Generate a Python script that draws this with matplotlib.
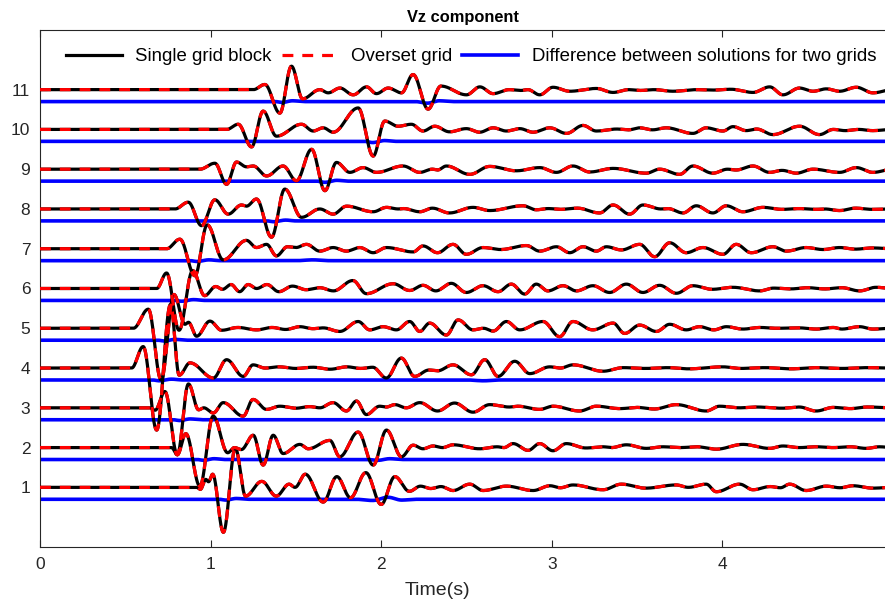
import numpy as np
import matplotlib
matplotlib.use("Agg")
import matplotlib.pyplot as plt

# Vertical-velocity traces at receivers 1..11, given as successive extrema
# (time in s, amplitude in trace units); the trace is flat before its first point.
trace_1 = [(0.918, 0.0), (0.94, -0.05), (0.972, 0.20), (0.988, 0.14), (1.012, 0.33), (1.075, -1.13),
           (1.145, 0.98), (1.205, -0.22), (1.30, 0.15), (1.385, -0.22), (1.46, 0.08), (1.495, 0.0),
           (1.555, 0.33), (1.66, -0.37), (1.74, 0.27), (1.82, -0.26), (1.91, 0.37), (2.0, -0.43),
           (2.08, 0.27), (2.165, -0.10), (2.23, 0.03), (2.29, -0.03), (2.35, 0.02), (2.421, -0.08),
           (2.519, 0.08), (2.597, -0.08), (2.734, 0.03), (2.890, -0.08), (2.99, 0.04), (3.05, -0.01),
           (3.124, 0.06), (3.30, -0.06), (3.408, 0.08), (3.55, -0.02), (3.729, 0.06), (3.80, 0.0),
           (3.905, 0.08), (3.964, -0.11), (4.101, 0.08), (4.179, -0.06), (4.28, 0.02), (4.34, -0.01),
           (4.394, 0.08), (4.491, -0.08), (4.609, 0.03), (4.69, -0.01), (4.765, 0.04), (4.882, -0.02),
           (5.0, 0.0)]
trace_2 = [(0.771, 0.0), (0.805, -0.18), (0.855, 0.35), (0.937, -0.97), (1.015, 0.79), (1.10, -0.13),
           (1.14, 0.0), (1.18, -0.05), (1.25, 0.31), (1.308, -0.44), (1.367, 0.31), (1.425, -0.15),
           (1.523, 0.08), (1.572, -0.03), (1.699, 0.18), (1.757, -0.23), (1.865, 0.39), (1.953, -0.44),
           (2.031, 0.44), (2.119, -0.23), (2.187, 0.06), (2.245, -0.03), (2.304, 0.04), (2.36, 0.0),
           (2.421, 0.07), (2.577, -0.03), (2.68, 0.02), (2.72, 0.0), (2.773, 0.10), (2.861, -0.07),
           (2.929, 0.10), (3.007, -0.08), (3.085, 0.10), (3.20, -0.01), (3.30, 0.02), (3.35, 0.0),
           (3.437, 0.07), (3.554, -0.02), (3.65, 0.02), (3.75, 0.0), (3.85, 0.02), (3.964, -0.04),
           (4.120, 0.08), (4.277, -0.02), (4.355, 0.04), (4.45, 0.0), (4.55, 0.02), (4.65, 0.0),
           (4.75, 0.02), (4.843, -0.02), (4.92, 0.02), (5.0, 0.0)]
trace_3 = [(0.644, 0.0), (0.675, -0.06), (0.732, 0.41), (0.805, -1.18), (0.87, 0.60), (0.93, -0.05),
           (0.96, 0.0), (1.016, -0.13), (1.074, 0.13), (1.191, -0.21), (1.249, 0.21), (1.328, -0.04),
           (1.406, 0.04), (1.50, -0.01), (1.58, 0.03), (1.64, 0.0), (1.718, 0.13), (1.796, -0.08),
           (1.855, 0.17), (1.913, -0.17), (1.991, 0.04), (2.03, 0.02), (2.08, 0.08), (2.147, 0.0),
           (2.226, 0.13), (2.33, -0.08), (2.43, 0.12), (2.538, -0.11), (2.636, 0.08), (2.75, 0.02),
           (2.80, 0.04), (2.929, -0.04), (3.007, 0.04), (3.163, -0.08), (3.261, 0.04), (3.40, -0.02),
           (3.50, 0.01), (3.60, -0.03), (3.730, 0.08), (3.905, -0.08), (3.983, 0.04), (4.10, 0.0),
           (4.20, 0.02), (4.35, -0.01), (4.45, 0.02), (4.550, -0.08), (4.65, 0.01), (4.75, -0.02),
           (4.85, 0.02), (5.0, 0.0)]
trace_4 = [(0.537, 0.0), (0.605, 0.54), (0.684, -1.56), (0.765, 1.6), (0.816, -0.18), (0.879, 0.13),
           (1.016, -0.25), (1.094, 0.21), (1.191, -0.21), (1.249, 0.08), (1.32, 0.0), (1.40, 0.03),
           (1.50, -0.01), (1.60, 0.02), (1.70, -0.03), (1.80, 0.03), (1.88, -0.01), (1.95, 0.02),
           (2.03, -0.25), (2.118, 0.25), (2.196, -0.21), (2.28, -0.05), (2.33, -0.07), (2.421, 0.08),
           (2.529, -0.17), (2.607, 0.21), (2.685, -0.21), (2.783, 0.17), (2.871, -0.14), (2.988, 0.03),
           (3.05, 0.0), (3.124, 0.08), (3.300, -0.08), (3.42, 0.01), (3.55, -0.01), (3.68, 0.01),
           (3.80, -0.02), (4.003, 0.03), (4.10, -0.01), (4.25, 0.01), (4.40, -0.02), (4.55, 0.01),
           (4.70, -0.01), (4.85, 0.01), (5.0, 0.0)]
trace_5 = [(0.547, 0.0), (0.635, 0.48), (0.71, -1.3), (0.785, 0.85), (0.85, 0.10), (0.87, 0.15),
           (0.918, -0.20), (0.996, 0.18), (1.064, -0.05), (1.16, 0.02), (1.27, -0.04), (1.36, 0.02),
           (1.44, -0.03), (1.523, 0.04), (1.60, -0.01), (1.66, 0.01), (1.757, -0.08), (1.865, 0.17),
           (1.933, -0.04), (2.011, 0.04), (2.089, -0.04), (2.167, 0.17), (2.226, -0.08), (2.284, 0.13),
           (2.382, -0.17), (2.451, 0.21), (2.538, -0.04), (2.60, 0.0), (2.656, -0.07), (2.734, 0.17),
           (2.812, -0.04), (2.948, 0.17), (3.046, -0.21), (3.124, 0.17), (3.24, -0.04), (3.359, 0.13),
           (3.427, -0.13), (3.515, 0.08), (3.613, -0.08), (3.691, 0.10), (3.788, -0.04), (3.866, 0.04),
           (3.95, -0.04), (4.023, 0.04), (4.12, -0.02), (4.22, 0.02), (4.32, 0.0), (4.45, 0.01),
           (4.55, -0.02), (4.65, 0.02), (4.70, -0.02), (4.804, 0.04), (4.882, -0.02), (5.0, 0.0)]
trace_6 = [(0.684, 0.0), (0.742, 0.39), (0.815, -1.05), (0.895, 0.45), (0.965, -0.18), (1.03, 0.05),
           (1.07, -0.02), (1.12, 0.10), (1.17, -0.08), (1.22, 0.10), (1.27, 0.0), (1.33, 0.10),
           (1.40, -0.08), (1.48, 0.06), (1.56, -0.03), (1.64, 0.02), (1.72, -0.06), (1.834, 0.20),
           (1.913, -0.13), (2.07, 0.12), (2.167, -0.05), (2.245, 0.08), (2.32, -0.06), (2.411, 0.13),
           (2.499, -0.10), (2.597, 0.07), (2.685, -0.08), (2.763, 0.11), (2.841, -0.14), (2.909, 0.11),
           (2.977, -0.06), (3.066, 0.07), (3.144, -0.06), (3.241, 0.07), (3.339, -0.10), (3.437, 0.11),
           (3.534, -0.10), (3.632, 0.08), (3.730, -0.12), (3.827, 0.07), (3.94, -0.02), (4.062, 0.03),
           (4.218, -0.06), (4.30, 0.01), (4.40, -0.01), (4.50, 0.02), (4.60, -0.01), (4.70, 0.02),
           (4.804, -0.06), (4.90, 0.03), (5.0, 0.0)]
trace_7 = [(0.742, 0.0), (0.82, 0.24), (0.908, -0.68), (0.98, 0.60), (1.074, -0.28), (1.21, 0.21),
           (1.269, 0.03), (1.328, 0.11), (1.386, -0.18), (1.45, 0.05), (1.50, 0.03), (1.562, 0.11),
           (1.640, -0.06), (1.718, 0.03), (1.796, -0.06), (1.874, 0.03), (1.953, -0.10), (2.031, 0.03),
           (2.187, -0.08), (2.245, 0.07), (2.33, -0.10), (2.421, 0.11), (2.499, -0.14), (2.597, 0.03),
           (2.70, -0.02), (2.851, 0.08), (2.929, -0.06), (3.027, 0.05), (3.105, -0.10), (3.183, 0.05),
           (3.261, -0.06), (3.320, 0.05), (3.408, -0.03), (3.515, 0.11), (3.603, -0.20), (3.691, 0.15),
           (3.788, -0.10), (3.886, 0.03), (4.003, -0.14), (4.081, 0.11), (4.169, -0.10), (4.296, 0.05),
           (4.374, -0.06), (4.491, 0.03), (4.59, -0.02), (4.687, 0.03), (4.78, -0.01), (4.88, 0.02),
           (5.0, 0.0)]
trace_8 = [(0.791, 0.0), (0.869, 0.17), (0.947, -0.42), (1.025, 0.23), (1.103, -0.13), (1.181, 0.10),
           (1.21, 0.07), (1.269, 0.25), (1.357, -0.71), (1.435, 0.50), (1.533, -0.21), (1.64, 0.0),
           (1.718, -0.13), (1.797, 0.07), (1.953, -0.07), (2.031, 0.04), (2.10, 0.0), (2.13, 0.01),
           (2.226, -0.07), (2.30, 0.02), (2.40, -0.10), (2.538, 0.04), (2.636, -0.04), (2.831, 0.08),
           (2.909, -0.02), (2.98, 0.01), (3.05, -0.01), (3.15, 0.02), (3.280, -0.10), (3.359, 0.10),
           (3.456, -0.13), (3.534, 0.10), (3.64, 0.0), (3.68, 0.01), (3.769, -0.10), (3.847, 0.08),
           (3.944, -0.10), (4.023, 0.08), (4.120, -0.07), (4.238, 0.04), (4.35, -0.01), (4.45, 0.01),
           (4.55, -0.01), (4.60, 0.0), (4.687, -0.04), (4.78, 0.02), (4.88, -0.01), (5.0, 0.0)]
trace_9 = [(0.937, 0.0), (1.025, 0.15), (1.094, -0.38), (1.152, 0.18), (1.21, 0.06), (1.25, 0.08),
           (1.328, -0.17), (1.425, 0.08), (1.503, -0.29), (1.592, 0.50), (1.670, -0.54), (1.738, 0.17),
           (1.816, -0.08), (1.894, 0.04), (1.972, -0.08), (2.128, 0.08), (2.226, -0.08), (2.30, 0.0),
           (2.33, -0.02), (2.382, 0.08), (2.519, -0.13), (2.636, 0.07), (2.792, -0.04), (2.929, 0.04),
           (3.027, -0.08), (3.124, 0.08), (3.222, -0.07), (3.359, 0.02), (3.554, -0.10), (3.632, 0.0),
           (3.749, -0.13), (3.827, 0.08), (3.944, -0.10), (4.03, 0.0), (4.08, -0.02), (4.179, 0.08),
           (4.277, -0.08), (4.35, -0.03), (4.433, -0.10), (4.531, 0.0), (4.687, -0.08), (4.785, 0.04),
           (4.882, -0.08), (5.0, 0.0)]
trace_10 = [(1.094, 0.0), (1.162, 0.13), (1.240, -0.44), (1.308, 0.46), (1.386, -0.17), (1.533, 0.13),
            (1.601, -0.04), (1.660, 0.04), (1.718, -0.07), (1.865, 0.54), (1.953, -0.67), (2.021, 0.21),
            (2.099, 0.08), (2.177, 0.13), (2.245, -0.04), (2.314, 0.08), (2.40, -0.06), (2.499, 0.02),
            (2.577, -0.07), (2.656, 0.04), (2.734, -0.04), (2.812, 0.02), (2.890, -0.07), (2.988, 0.04),
            (3.086, -0.10), (3.183, 0.10), (3.261, -0.04), (3.38, 0.01), (3.45, -0.01), (3.515, 0.04),
            (3.59, -0.01), (3.671, 0.04), (3.827, -0.10), (3.905, 0.04), (4.003, -0.04), (4.062, 0.07),
            (4.14, -0.03), (4.20, 0.01), (4.296, -0.13), (4.452, 0.08), (4.569, -0.13), (4.65, 0.0),
            (4.72, -0.03), (4.80, 0.0), (4.88, -0.03), (5.0, 0.0)]
trace_11 = [(1.25, 0.0), (1.318, 0.13), (1.406, -0.59), (1.474, 0.59), (1.539, -0.23), (1.640, 0.0),
            (1.689, -0.08), (1.758, 0.04), (1.836, -0.13), (1.914, 0.07), (1.972, -0.10), (2.041, 0.04),
            (2.119, -0.08), (2.187, 0.38), (2.275, -0.49), (2.35, 0.09), (2.5, -0.13), (2.578, 0.07),
            (2.656, -0.10), (2.75, 0.0), (2.82, -0.02), (2.86, 0.0), (2.929, -0.13), (3.007, 0.06),
            (3.105, -0.04), (3.261, 0.03), (3.359, -0.07), (3.45, 0.0), (3.52, -0.02), (3.60, 0.0),
            (3.710, -0.04), (3.85, 0.0), (3.95, -0.01), (4.05, 0.01), (4.179, -0.07), (4.277, 0.07),
            (4.355, -0.13), (4.452, 0.04), (4.531, -0.04), (4.609, 0.02), (4.687, -0.04), (4.785, 0.06),
            (4.882, -0.08), (5.0, 0.0)]

# Difference between the single-block and overset-grid solutions (same units)
diff_1 = [(0.0, 0.0), (1.05, 0.0), (1.09, -0.02), (1.15, 0.02), (1.22, 0.0), (1.85, 0.0), (1.95, -0.03),
          (2.04, 0.05), (2.12, -0.02), (2.2, 0.0), (5.0, 0.0)]
diff_2 = [(0.0, 0.0), (0.92, 0.0), (0.96, -0.02), (1.02, 0.02), (1.08, 0.0), (1.92, 0.0), (1.98, -0.02),
          (2.05, 0.02), (2.12, 0.0), (5.0, 0.0)]
diff_3 = [(0.0, 0.0), (0.78, 0.0), (0.82, -0.02), (0.88, 0.02), (0.95, 0.0), (5.0, 0.0)]
diff_4 = [(0.0, 0.0), (0.66, 0.0), (0.70, -0.02), (0.77, 0.02), (0.84, 0.0), (2.5, 0.0), (2.6, -0.02),
          (2.7, 0.0), (5.0, 0.0)]
diff_5 = [(0.0, 0.0), (0.69, 0.0), (0.73, -0.02), (0.79, 0.02), (0.86, 0.0), (5.0, 0.0)]
diff_6 = [(0.0, 0.0), (0.79, 0.0), (0.83, -0.02), (0.90, 0.02), (0.97, 0.0), (5.0, 0.0)]
diff_7 = [(0.0, 0.0), (0.88, 0.0), (0.92, -0.02), (0.99, 0.02), (1.06, 0.0), (1.5, 0.0), (1.6, 0.02),
          (1.7, 0.0), (5.0, 0.0)]
diff_8 = [(0.0, 0.0), (1.33, 0.0), (1.37, -0.02), (1.44, 0.02), (1.50, 0.0), (5.0, 0.0)]
diff_9 = [(0.0, 0.0), (1.62, 0.0), (1.67, -0.03), (1.74, 0.02), (1.80, 0.0), (5.0, 0.0)]
diff_10 = [(0.0, 0.0), (1.90, 0.0), (1.95, -0.03), (2.02, 0.02), (2.08, 0.0), (5.0, 0.0)]
diff_11 = [(0.0, 0.0), (1.38, 0.0), (1.42, -0.02), (1.48, 0.02), (1.55, 0.0), (2.20, 0.0), (2.27, -0.04),
           (2.34, 0.02), (2.42, 0.0), (5.0, 0.0)]

traces = [trace_1, trace_2, trace_3, trace_4, trace_5, trace_6,
          trace_7, trace_8, trace_9, trace_10, trace_11]
diffs = [diff_1, diff_2, diff_3, diff_4, diff_5, diff_6,
         diff_7, diff_8, diff_9, diff_10, diff_11]
receivers = list(range(1, 12))
diff_shift = 0.3
x_ticks = [0, 1, 2, 3, 4]
x_tick_labels = ["0", "1", "2", "3", "4"]


def sample(knots, t):
    """Smooth half-cosine curve through successive extrema."""
    tk = np.array([k[0] for k in knots])
    ak = np.array([k[1] for k in knots])
    y = np.zeros_like(t)
    for i in range(len(tk) - 1):
        m = (t >= tk[i]) & (t <= tk[i + 1])
        u = (t[m] - tk[i]) / (tk[i + 1] - tk[i])
        y[m] = ak[i] + (ak[i + 1] - ak[i]) * (1 - np.cos(np.pi * u)) / 2
    return y


plt.rcParams["font.family"] = ["Liberation Sans", "DejaVu Sans"]
fig = plt.figure(figsize=(8.85, 6.0), dpi=100)
ax = fig.add_axes([40 / 885, 1 - 547 / 600, 853 / 885, 517 / 600])

t = np.linspace(0.0, 5.0, 4001)
for k, df in enumerate(diffs):
    off = receivers[k]
    ax.plot(t, sample(df, t) + off - diff_shift, color="#0000ff", lw=2.6, zorder=2,
            label="Difference between solutions for two grids" if k == 0 else None)
for k, tr in enumerate(traces):
    off = receivers[k]
    y = sample(tr, t) + off
    ax.plot(t, y, color="black", lw=2.3, zorder=3, label="Single grid block" if k == 0 else None)
    ax.plot(t, y, color="#ff0000", lw=2.3, dashes=(3.4, 2.8), zorder=4,
            label="Overset grid" if k == 0 else None)

ax.set_xlim(0, 5)
ax.set_ylim(-0.5, 12.5)
ax.set_xticks(x_ticks)
ax.set_xticklabels(x_tick_labels)
ax.set_yticks(receivers)
ax.tick_params(direction="in", top=True, right=True, length=5, width=0.8,
               labelsize=12.5, colors="#262626", pad=7)
for s in ax.spines.values():
    s.set_color("#262626")
    s.set_linewidth(0.8)

ax.set_title("Vz component", fontsize=11.8, fontweight="bold", color="black",
             x=(463 - 40) / 853, pad=6)
ax.set_xlabel("Time(s)", fontsize=14, color="#262626", labelpad=1)
ax.xaxis.set_label_coords((437 - 40) / 853, -0.068)

handles, labels = ax.get_legend_handles_labels()
order = [labels.index("Single grid block"), labels.index("Overset grid"),
         labels.index("Difference between solutions for two grids")]
ax.legend([handles[i] for i in order], [labels[i] for i in order],
          loc="center", bbox_to_anchor=((471 - 40) / 853, 0.948), ncol=3, frameon=False,
          fontsize=13.4, handlelength=3.0, handletextpad=0.72, columnspacing=0.55,
          borderaxespad=0)

fig.savefig("out.png", dpi=100)
